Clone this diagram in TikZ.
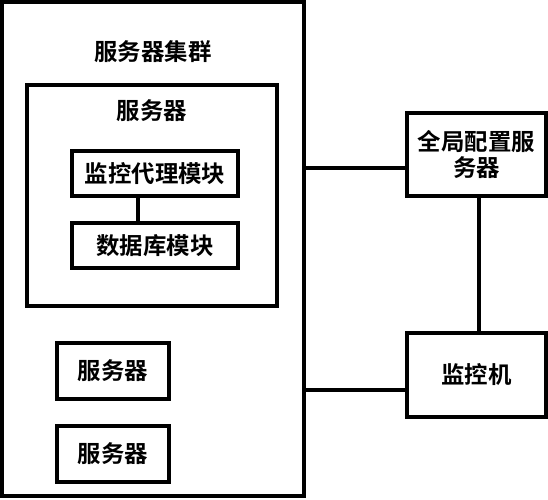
\documentclass[tikz,border=0pt]{standalone}
\usepackage{fontspec}
\newfontfamily\cjk{Noto Sans CJK SC Bold}
\begin{document}
\begin{tikzpicture}[x=1bp,y=-1bp,
  box/.style={draw,line width=3.2bp,rectangle},
  lbl/.style={font=\cjk\fontsize{23.5}{27}\selectfont},
  conn/.style={line width=3.2bp}]
\useasboundingbox (0,0) rectangle (548,500);
\node[box,minimum width=302bp,minimum height=494bp] (cluster) at (153,249) {};
\node[lbl] (clusterlbl) at (153,52) {服务器集群};
\node[box,minimum width=250bp,minimum height=221bp] (srv) at (152,195.5) {};
\node[lbl] (srvlbl) at (152,111) {服务器};
\node[box,lbl,minimum width=166bp,minimum height=45bp] (agent) at (155,173.5) {监控代理模块};
\node[box,lbl,minimum width=166bp,minimum height=45bp] (db) at (155,245.5) {数据库模块};
\draw[conn] (agent.south -| 138,0) -- (db.north -| 138,0);
\node[box,lbl,minimum width=112bp,minimum height=56bp] (s2) at (113,371) {服务器};
\node[box,lbl,minimum width=112bp,minimum height=56bp] (s3) at (113,454) {服务器};
\node[box,lbl,minimum width=139bp,minimum height=83bp,align=center] (gcs) at (476.5,154.5) {全局配置服\\[-1bp]务器};
\node[box,lbl,minimum width=139bp,minimum height=84bp] (mon) at (476.5,375) {监控机};
\draw[conn] (cluster.east |- 0,168) -- (gcs.west |- 0,168);
\draw[conn] (cluster.east |- 0,390) -- (mon.west |- 0,390);
\draw[conn] (gcs.south -| 479,0) -- (mon.north -| 479,0);
\end{tikzpicture}
\end{document}
